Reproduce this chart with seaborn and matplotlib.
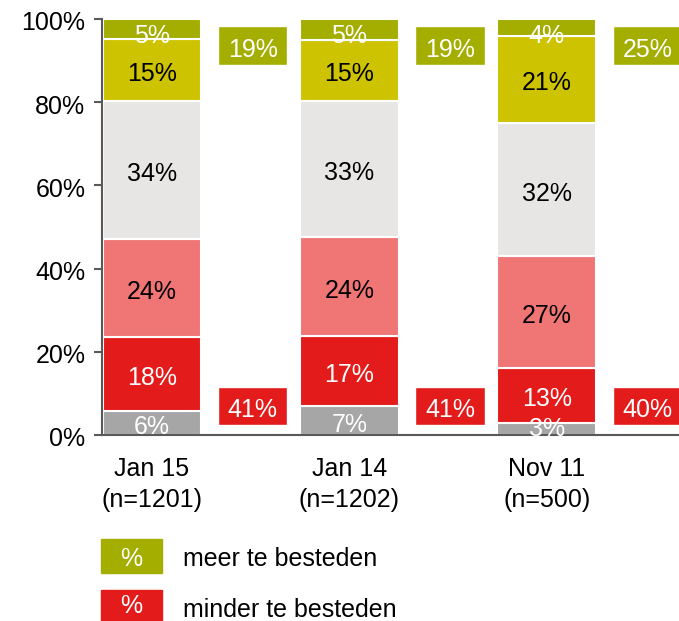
import numpy as np
import pandas as pd
import matplotlib
matplotlib.use("Agg")
import matplotlib.pyplot as plt
from matplotlib.patches import Rectangle
from matplotlib.transforms import offset_copy, ScaledTranslation
import seaborn as sns

# Survey waves and their labels
waves = ["Jan 15\n(n=1201)", "Jan 14\n(n=1202)", "Nov 11\n(n=500)"]

# Answer shares per wave, bottom to top (rounded percentages as reported)
seg_grey = [6, 7, 3]
seg_red = [18, 17, 13]
seg_lightred = [24, 24, 27]
seg_lightgrey = [34, 33, 32]
seg_yellow = [15, 15, 21]
seg_olive = [5, 5, 4]

# Net totals shown beside each bar
total_meer = [19, 19, 25]
total_minder = [41, 41, 40]

legend_labels = ["meer te besteden", "minder te besteden"]

segments = [seg_grey, seg_red, seg_lightred, seg_lightgrey, seg_yellow, seg_olive]
colors = ["#A6A6A6", "#E31B1B", "#F07575", "#E7E6E4", "#CDC300", "#A3AE00"]
text_colors = ["white", "white", "black", "black", "black", "white"]

sns.set_theme(style="white")
plt.rcParams["font.family"] = ["Liberation Sans", "DejaVu Sans"]
FS = 18

fig = plt.figure(figsize=(6.79, 6.21), dpi=100)
ax = fig.add_axes([102 / 679, 186 / 621, 1 - 102 / 679, 416 / 621])

# Labels sit a few pixels below the geometric centre of their box
lab_tr = offset_copy(ax.transData, fig=fig, x=0, y=-4, units="dots")

# Shares are rescaled per wave so each bar fills exactly 100%
vals = np.array(segments, dtype=float)
scaled = vals / vals.sum(axis=0) * 100
bottoms = np.vstack([np.zeros(3), np.cumsum(scaled, axis=0)[:-1]])

for i, (seg, col, tcol) in enumerate(zip(segments, colors, text_colors)):
    df = pd.DataFrame({"wave": waves, "share": scaled[i]})
    sns.barplot(data=df, x="wave", y="share", color=col, saturation=1,
                width=0.5, bottom=bottoms[i], edgecolor="white",
                linewidth=1.5, ax=ax)
    for j, v in enumerate(seg):
        # keep labels of thin end segments inside the plotting area
        y_lab = np.clip(bottoms[i][j] + scaled[i][j] / 2, 2.5, 96.8)
        ax.text(j, y_lab, f"{v}%", ha="center", va="center", color=tcol,
                fontsize=FS, zorder=7, transform=lab_tr)

# Net boxes to the right of each bar
box_x = np.arange(3) + 0.51
ax.bar(box_x, 9.4, bottom=88.9, width=0.35, color="#A3AE00", zorder=3)
ax.bar(box_x, 9.1, bottom=2.4, width=0.35, color="#E31B1B", zorder=3)
for j in range(3):
    ax.text(box_x[j], 93.6, f"{total_meer[j]}%", ha="center", va="center",
            color="white", fontsize=FS, zorder=5, transform=lab_tr)
    ax.text(box_x[j], 7.0, f"{total_minder[j]}%", ha="center", va="center",
            color="white", fontsize=FS, zorder=5, transform=lab_tr)

ax.set_xlim(-0.253, 2.67)
ax.set_ylim(0, 100)
ax.set_yticks(range(0, 101, 20))
ax.set_yticklabels([f"{t}%" for t in range(0, 101, 20)], fontsize=FS)
ax.set_xlabel("")
ax.set_ylabel("")
ax.tick_params(axis="y", which="both", left=True, length=6, width=1.5,
               color="#595959", pad=6, labelcolor="black")
ax.tick_params(axis="x", bottom=False, labelsize=FS, pad=10, labelcolor="black")
for lbl in ax.get_xticklabels():
    lbl.set_linespacing(1.35)
shift = ScaledTranslation(0, -2 / 100, fig.dpi_scale_trans)
for lbl in ax.get_yticklabels():
    lbl.set_transform(lbl.get_transform() + shift)
for s in ["top", "right"]:
    ax.spines[s].set_visible(False)
for s in ["left", "bottom"]:
    ax.spines[s].set_color("#595959")
    ax.spines[s].set_linewidth(1.5)
    ax.spines[s].set_zorder(6)

# Legend drawn as coloured swatches with a percent sign
W, H = 679, 621
for (y_top, col, lab, pct_dy) in [(539, "#A3AE00", legend_labels[0], 20),
                                  (590, "#E31B1B", legend_labels[1], 16)]:
    fig.patches.append(Rectangle((101 / W, 1 - (y_top + 34) / H), 61 / W, 34 / H,
                                 transform=fig.transFigure, color=col))
    fig.text(131.5 / W, 1 - (y_top + pct_dy) / H, "%", color="white",
             fontsize=FS, ha="center", va="center")
    fig.text(183 / W, 1 - (y_top + 20) / H, lab, color="black", fontsize=FS,
             ha="left", va="center")

fig.savefig("out.png", dpi=100)
